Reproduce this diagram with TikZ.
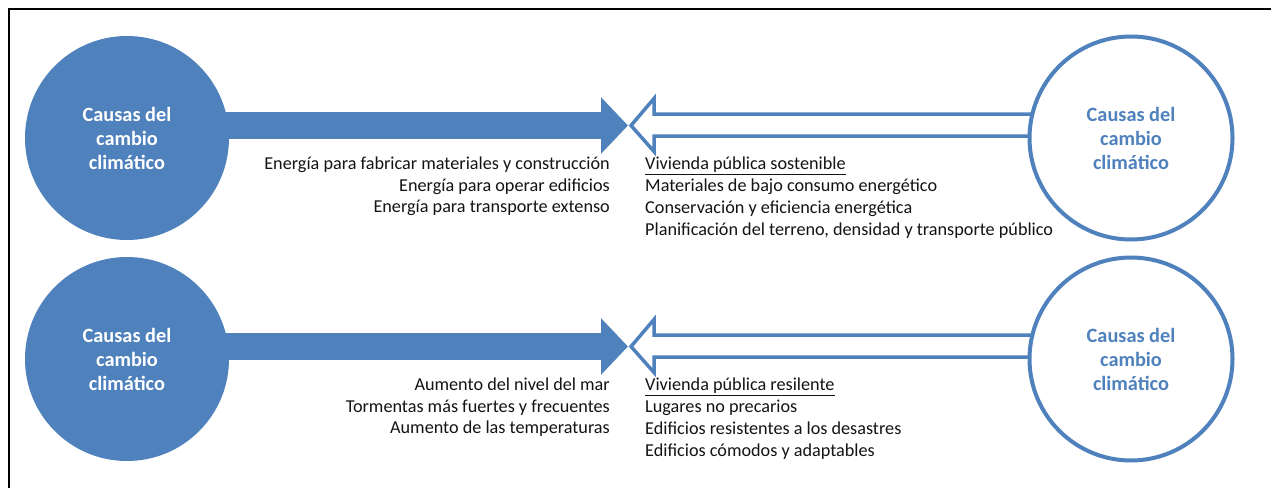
\documentclass[tikz,border=0pt]{standalone}
\usepackage{fontspec}
\setmainfont{Carlito}
\usetikzlibrary{arrows.meta}
\definecolor{accent}{HTML}{4F81BD}
\definecolor{txt}{HTML}{141414}
\begin{document}
\begin{tikzpicture}[x=1pt,y=-1pt,
  causefill/.style={circle, fill=accent, minimum size=204pt, inner sep=0pt, align=center,
    text=white, font=\fontsize{20.3}{24}\selectfont\bfseries},
  causeline/.style={circle, draw=accent, line width=4pt, fill=white, minimum size=203pt,
    inner sep=0pt, align=center, text=accent, font=\fontsize{20.3}{24}\selectfont\bfseries},
  solidarrow/.style={draw=accent, line width=27pt, -{Triangle[length=27pt,width=55pt]}},
  hollowarrow/.style={draw=accent, fill=white, line width=3.5pt, line join=miter},
  lefttext/.style={anchor=base east, align=right, inner sep=0pt, text=txt,
    font=\fontsize{18.2}{21.7}\selectfont},
  righttext/.style={anchor=base west, align=left, inner sep=0pt, text=txt,
    font=\fontsize{18.2}{21.7}\selectfont},
  frame/.style={draw=black, line width=2.5pt}]
\useasboundingbox (0,0) rectangle (1271,487);
\clip (0,0) rectangle (1271,487);
\fill[white] (0,0) rectangle (1271,487);
\draw[frame] (9,600) -- (9,9) -- (1400,9);

% ---- top row ----
\coordinate (m1) at (628,125.5);
\node[causefill] (cL1) at (127,138) {Causas del\\cambio\\climático};
\draw[solidarrow] ([xshift=-6pt]cL1.east |- m1) -- (m1);
\draw[hollowarrow] (m1) ++(3,0) -- ++(23,-27) -- ++(0,15.5) -- ++(380,0) -- ++(0,22)
  -- ++(-380,0) -- ++(0,15.5) -- cycle;
\node[causeline] (cR1) at (1131,138) {Causas del\\cambio\\climático};
\node[lefttext] (tL1) at (610,212.7) {Energía para fabricar materiales y construcción\\
  Energía para operar edificios\\Energía para transporte extenso};
\node[righttext] (tR1) at (645,235) {\underline{Vivienda pública sostenible}\\
  Materiales de bajo consumo energético\\Conservación y eficiencia energética\\
  Planificación del terreno, densidad y transporte público};

% ---- bottom row ----
\coordinate (m2) at (628,346.5);
\node[causefill] (cL2) at (127,359) {Causas del\\cambio\\climático};
\draw[solidarrow] ([xshift=-6pt]cL2.east |- m2) -- (m2);
\draw[hollowarrow] (m2) ++(3,0) -- ++(23,-27) -- ++(0,15.5) -- ++(380,0) -- ++(0,22)
  -- ++(-380,0) -- ++(0,15.5) -- cycle;
\node[causeline] (cR2) at (1131,359) {Causas del\\cambio\\climático};
\node[lefttext] (tL2) at (610,433.7) {Aumento del nivel del mar\\
  Tormentas más fuertes y frecuentes\\Aumento de las temperaturas};
\node[righttext] (tR2) at (645,456) {\underline{Vivienda pública resilente}\\
  Lugares no precarios\\Edificios resistentes a los desastres\\
  Edificios cómodos y adaptables};
\end{tikzpicture}
\end{document}
